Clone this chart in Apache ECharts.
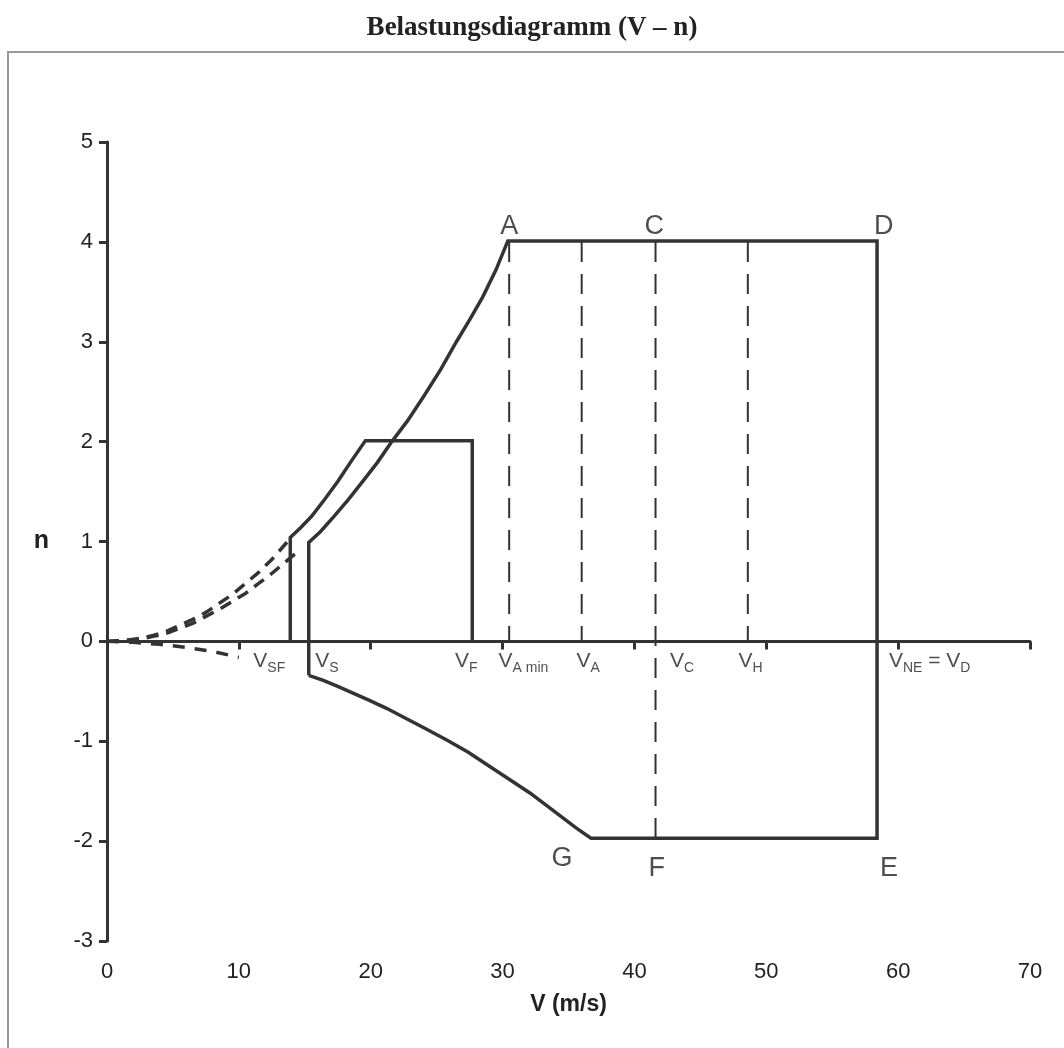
<!DOCTYPE html>
<html>
<head>
<meta charset="utf-8">
<script src="https://cdn.jsdelivr.net/npm/echarts@6/dist/echarts.min.js"></script>
<style>
html,body{margin:0;padding:0;background:#fff}
#vn{width:1064px;height:1048px}
</style>
</head>
<body>
<div id="vn"></div>
<script>
// axis ranges
var vMin = 0, vMax = 70, vStep = 10;
var nMin = -3, nMax = 5, nStep = 1;

// main envelope: V_S -> A -> D -> E -> G -> back to V_S
var envV = [15.3, 15.3, 16.2, 17.2, 18.3, 19.5, 20.5, 21.6, 22.8, 24, 25.3, 26.5, 27.5, 28.5, 29.5, 30.4, 58.4, 58.4, 36.7, 35.6, 34.5, 33.3, 32.1, 30.5, 29, 27.4, 25.8, 24.1, 22.5, 21.2, 19.9, 18.7, 17.5, 16.4, 15.3];
var envN = [-0.34, 0.99, 1.1, 1.25, 1.42, 1.62, 1.79, 2.0, 2.21, 2.45, 2.72, 3.0, 3.22, 3.45, 3.72, 4.01, 4.01, -1.97, -1.97, -1.87, -1.76, -1.64, -1.52, -1.38, -1.25, -1.11, -0.99, -0.87, -0.76, -0.67, -0.59, -0.52, -0.45, -0.39, -0.34];

// landing flaps box
var flapV = [13.9, 13.9, 14.7, 15.5, 16.5, 17.5, 18.5, 19.6, 27.7, 27.7];
var flapN = [0, 1.04, 1.14, 1.25, 1.42, 1.6, 1.8, 2.01, 2.01, 0];

// dashed stall curves below stall speed
var extFlapV = [0, 1.5, 2.5, 3.5, 4.5, 5.5, 6.5, 7.5, 8.5, 9.5, 10.5, 11.5, 12.5, 13.9];
var extFlapN = [0, 0.01, 0.03, 0.06, 0.1, 0.16, 0.22, 0.29, 0.38, 0.47, 0.58, 0.69, 0.82, 1.03];
var extCleanV = [0, 1.5, 2.5, 3.5, 4.5, 5.5, 6.5, 7.5, 8.5, 9.5, 10.5, 11.5, 12.5, 13.3, 14.4];
var extCleanN = [0, 0.01, 0.02, 0.05, 0.08, 0.13, 0.18, 0.25, 0.32, 0.4, 0.48, 0.58, 0.68, 0.77, 0.89];
var extNegV = [0, 2, 4, 6, 8, 10];
var extNegN = [0, -0.01, -0.03, -0.06, -0.1, -0.16];

// reference speeds (dashed verticals)
var refV = [30.5, 36.0, 41.6, 48.6];
var refTop = [4.0, 4.0, 4.0, 4.0];
var refBottom = [0, 0, -1.97, 0];

// speed labels on the V axis
var speedText = ['{v|V}{s|SF}', '{v|V}{s|S}', '{v|V}{s|F}', '{v|V}{s|A min}', '{v|V}{s|A}', '{v|V}{s|C}', '{v|V}{s|H}', '{v|V}{s|NE}{v| = V}{s|D}'];
var speedAt = [11.1, 15.8, 26.4, 29.7, 35.6, 42.7, 47.9, 59.3];
var speedLevel = -0.2;

// corner letters
var cornerText = ['A', 'C', 'D', 'G', 'F', 'E'];
var cornerV = [30.5, 41.5, 58.9, 34.5, 41.7, 59.3];
var cornerN = [4.15, 4.15, 4.15, -2.17, -2.27, -2.27];

var lineCol = '#333';
var txtCol = '#222';
var font = 'Liberation Sans, Arial, sans-serif';

function pairs(xs, ys){
    var out = [];
    for(var i = 0; i < xs.length; i++){
        out.push([xs[i], ys[i]]);
    }
    return out;
}

var myChart = echarts.init(document.getElementById('vn'));

var series = [
    {
        name: 'envelope', type: 'line', xAxisIndex: 0, data: pairs(envV, envN),
        showSymbol: false, silent: true, z: 5,
        lineStyle: {color: lineCol, width: 3.5, join: 'miter'}
    },
    {
        name: 'flaps', type: 'line', xAxisIndex: 0, data: pairs(flapV, flapN),
        showSymbol: false, silent: true, z: 5,
        lineStyle: {color: lineCol, width: 3.5, join: 'miter'}
    },
    {
        name: 'extFlap', type: 'line', xAxisIndex: 0, data: pairs(extFlapV, extFlapN),
        showSymbol: false, silent: true,
        lineStyle: {color: lineCol, width: 3.5, type: [12, 8]}
    },
    {
        name: 'extClean', type: 'line', xAxisIndex: 0, data: pairs(extCleanV, extCleanN),
        showSymbol: false, silent: true,
        lineStyle: {color: lineCol, width: 3.5, type: [12, 8]}
    },
    {
        name: 'extNeg', type: 'line', xAxisIndex: 0, data: pairs(extNegV, extNegN),
        showSymbol: false, silent: true,
        lineStyle: {color: lineCol, width: 3.5, type: [12, 10]}
    }
];

for(var i = 0; i < refV.length; i++){
    series.push({
        name: 'ref' + i, type: 'line', xAxisIndex: 0,
        data: [[refV[i], refTop[i]], [refV[i], refBottom[i]]],
        showSymbol: false, silent: true,
        lineStyle: {color: lineCol, width: 2, type: [20, 12]}
    });
}

var speedData = [];
for(var j = 0; j < speedText.length; j++){
    speedData.push({value: [speedAt[j], speedLevel], label: {formatter: speedText[j]}});
}
series.push({
    name: 'speedLabels', type: 'scatter', xAxisIndex: 0, data: speedData,
    symbolSize: 0, silent: true, clip: false,
    label: {
        show: true, position: 'right', distance: 0, color: txtCol,
        rich: {
            v: {fontFamily: font, fontSize: 21, color: txtCol, lineHeight: 27, verticalAlign: 'bottom', padding: [0, 0, 3, 0]},
            s: {fontFamily: font, fontSize: 14, color: txtCol, lineHeight: 27, verticalAlign: 'bottom'}
        }
    }
});

var cornerData = [];
for(var k = 0; k < cornerText.length; k++){
    cornerData.push({value: [cornerV[k], cornerN[k]], label: {formatter: cornerText[k]}});
}
series.push({
    name: 'corners', type: 'scatter', xAxisIndex: 0, data: cornerData,
    symbolSize: 0, silent: true, clip: false,
    label: {show: true, position: 'inside', fontFamily: font, fontSize: 27, color: txtCol, textBorderWidth: 0}
});

option = {
    backgroundColor: '#fff',
    animation: false,
    title: {
        text: 'Belastungsdiagramm (V – n)',
        left: 'center',
        top: 10,
        textStyle: {fontFamily: 'Liberation Serif, Times New Roman, serif', fontWeight: 'bold', fontSize: 27, color: '#222'}
    },
    graphic: [
        {
            type: 'rect', silent: true, z: -10,
            shape: {x: 8, y: 52, width: 1080, height: 1020},
            style: {fill: 'none', stroke: '#999', lineWidth: 2}
        }
    ],
    grid: {left: 107, right: 34, top: 142, bottom: 107},
    xAxis: [
        {
            type: 'value', min: vMin, max: vMax, interval: vStep,
            axisLine: {show: true, onZero: true, lineStyle: {color: lineCol, width: 3}},
            axisTick: {show: true, inside: false, length: 8, lineStyle: {color: lineCol, width: 3}},
            axisLabel: {show: false},
            splitLine: {show: false}
        },
        {
            type: 'value', min: vMin, max: vMax, interval: vStep, position: 'bottom',
            axisLine: {show: false, onZero: false},
            axisTick: {show: false},
            axisLabel: {show: true, margin: 20, fontFamily: font, fontSize: 22, color: txtCol},
            splitLine: {show: false},
            name: 'V (m/s)', nameLocation: 'middle', nameGap: 52,
            nameTextStyle: {fontFamily: font, fontSize: 23, fontWeight: 'bold', color: txtCol}
        }
    ],
    yAxis: {
        type: 'value', min: nMin, max: nMax, interval: nStep,
        axisLine: {show: true, onZero: false, lineStyle: {color: lineCol, width: 3}},
        axisTick: {show: true, length: 8, lineStyle: {color: lineCol, width: 3}},
        axisLabel: {margin: 14, fontFamily: font, fontSize: 22, color: txtCol},
        splitLine: {show: false},
        name: 'n', nameLocation: 'middle', nameRotate: 0, nameGap: 58,
        nameTextStyle: {fontFamily: font, fontSize: 25, fontWeight: 'bold', color: txtCol}
    },
    series: series
};
myChart.setOption(option, true);
</script>
</body>
</html>
